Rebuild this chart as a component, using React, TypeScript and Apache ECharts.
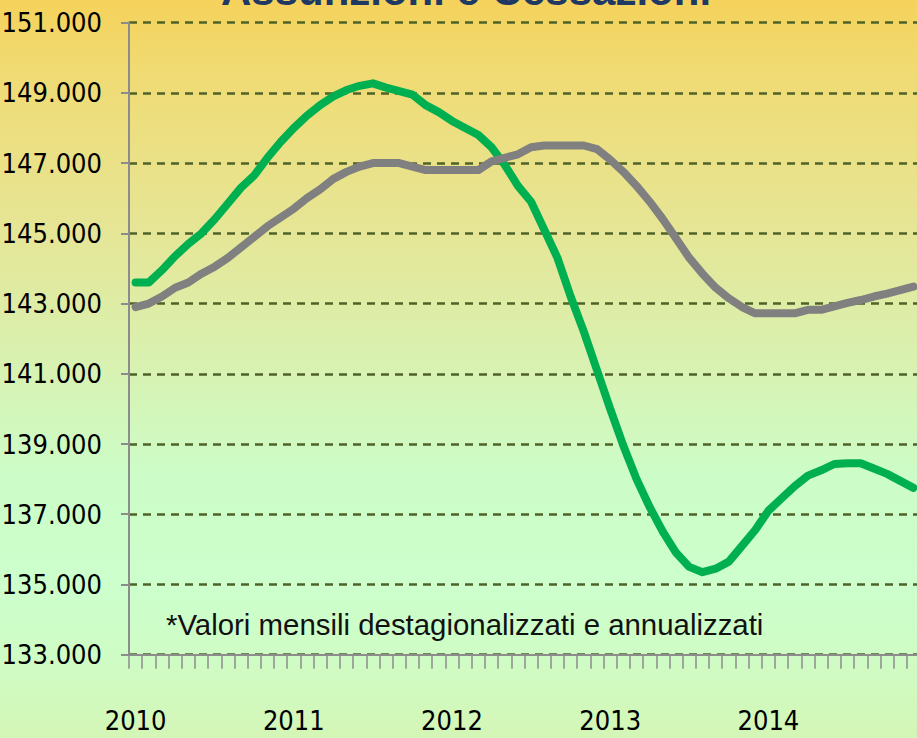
import React, { useEffect, useRef } from "react";
import * as echarts from "echarts";

const years = ["2010", "2011", "2012", "2013", "2014"];
const months = ["01", "02", "03", "04", "05", "06", "07", "08", "09", "10", "11", "12"];

// Assunzioni (green), monthly values in thousands
const assunzioni = [
  143.6, 143.6, 143.95, 144.35, 144.7, 145.0, 145.4, 145.85, 146.3, 146.65, 147.15, 147.6,
  148.0, 148.35, 148.65, 148.9, 149.08, 149.2, 149.27, 149.15, 149.05, 148.95, 148.65, 148.45,
  148.2, 148.0, 147.8, 147.45, 146.95, 146.35, 145.9, 145.1, 144.3, 143.2, 142.2, 141.1,
  140.0, 138.95, 138.0, 137.2, 136.5, 135.9, 135.5, 135.35, 135.45, 135.65, 136.1, 136.55,
  137.1, 137.45, 137.8, 138.1, 138.25, 138.43, 138.45, 138.45, 138.3, 138.15, 137.95, 137.75,
];

// Cessazioni (grey), monthly values in thousands
const cessazioni = [
  142.9, 143.0, 143.2, 143.45, 143.6, 143.85, 144.05, 144.3, 144.6, 144.9, 145.2, 145.45,
  145.7, 146.0, 146.25, 146.55, 146.75, 146.9, 147.0, 147.0, 147.0, 146.9, 146.8, 146.8,
  146.8, 146.8, 146.8, 147.05, 147.15, 147.25, 147.45, 147.5, 147.5, 147.5, 147.5, 147.4,
  147.1, 146.75, 146.35, 145.9, 145.4, 144.85, 144.3, 143.85, 143.45, 143.15, 142.9, 142.72,
  142.72, 142.72, 142.72, 142.82, 142.82, 142.92, 143.02, 143.1, 143.2, 143.28, 143.38, 143.48,
];

const yTickLabels = [
  "133.000", "135.000", "137.000", "139.000", "141.000",
  "143.000", "145.000", "147.000", "149.000", "151.000",
];

const titleText = "Assunzioni e Cessazioni";
const noteText = "*Valori mensili destagionalizzati e annualizzati";

const condensed = "'DejaVu Sans Condensed', 'Liberation Sans Narrow', sans-serif";

export default function App() {
  const ref = useRef<HTMLDivElement>(null);

  useEffect(() => {
    if (!ref.current) return;
    const chart = echarts.init(ref.current, null, { renderer: "svg" });
    const categories = years.flatMap((y) => months.map((m) => `${y}-${m}`));
    const toUnits = (arr: number[]) => arr.map((v) => Math.round(v * 1000));

    chart.setOption({
      animation: false,
      grid: {
        left: 129,
        right: -3,
        top: 22.6,
        bottom: 83.3,
        containLabel: false,
        outerBoundsMode: "none",
      },
      graphic: [
        {
          type: "text",
          style: {
            text: titleText,
            x: 466,
            y: -10,
            align: "center",
            verticalAlign: "middle",
            fontFamily: "'Liberation Sans', Arial, sans-serif",
            fontWeight: "bold",
            fontSize: 42,
            fill: "#203864",
          },
          z: 10,
        },
        {
          type: "text",
          style: {
            text: noteText,
            x: 166,
            y: 624,
            align: "left",
            verticalAlign: "middle",
            fontFamily: "'Liberation Sans', Arial, sans-serif",
            fontSize: 29.4,
            fill: "#111111",
          },
          z: 10,
        },
      ],
      xAxis: {
        type: "category",
        data: categories,
        boundaryGap: true,
        axisLine: { show: true, lineStyle: { color: "#8c8c8c", width: 2 } },
        axisTick: {
          show: true,
          interval: 0,
          length: 14,
          lineStyle: { color: "#8c8c8c", width: 1.5 },
        },
        axisLabel: {
          interval: (index: number) => index % 12 === 0,
          formatter: (val: string) => val.slice(0, 4),
          margin: 52,
          fontFamily: condensed,
          fontSize: 27,
          color: "#000000",
        },
        splitLine: { show: false },
      },
      yAxis: {
        type: "value",
        min: 133000,
        max: 151000,
        interval: 2000,
        axisLine: { show: true, lineStyle: { color: "#8c8c8c", width: 2 } },
        axisTick: { show: true, length: 8, lineStyle: { color: "#8c8c8c", width: 2 } },
        axisLabel: {
          margin: 27,
          formatter: (v: number) => yTickLabels[Math.round((v - 133000) / 2000)] ?? "",
          fontFamily: condensed,
          fontSize: 27,
          color: "#000000",
        },
        splitLine: {
          show: true,
          lineStyle: { color: "#4f6228", width: 2.5, type: [8, 6] },
        },
      },
      series: [
        {
          name: "Assunzioni",
          type: "line",
          data: toUnits(assunzioni),
          symbol: "none",
          smooth: false,
          lineStyle: { color: "#00b050", width: 8, cap: "round", join: "round" },
          z: 3,
        },
        {
          name: "Cessazioni",
          type: "line",
          data: toUnits(cessazioni),
          symbol: "none",
          smooth: false,
          lineStyle: { color: "#808080", width: 8, cap: "round", join: "round" },
          z: 4,
        },
      ],
    });

    return () => chart.dispose();
  }, []);

  return (
    <div
      ref={ref}
      style={{
        position: "fixed",
        left: 0,
        top: 0,
        width: 917,
        height: 738,
        background:
          "linear-gradient(to bottom, #F5D25B 0%, #F0DB74 10%, #E6E594 30%, #D8F2B2 50%, #CCFDC8 65%, #CCFFCC 80%, #CFFCC4 90%, #D4F6B6 100%)",
      }}
    />
  );
}
